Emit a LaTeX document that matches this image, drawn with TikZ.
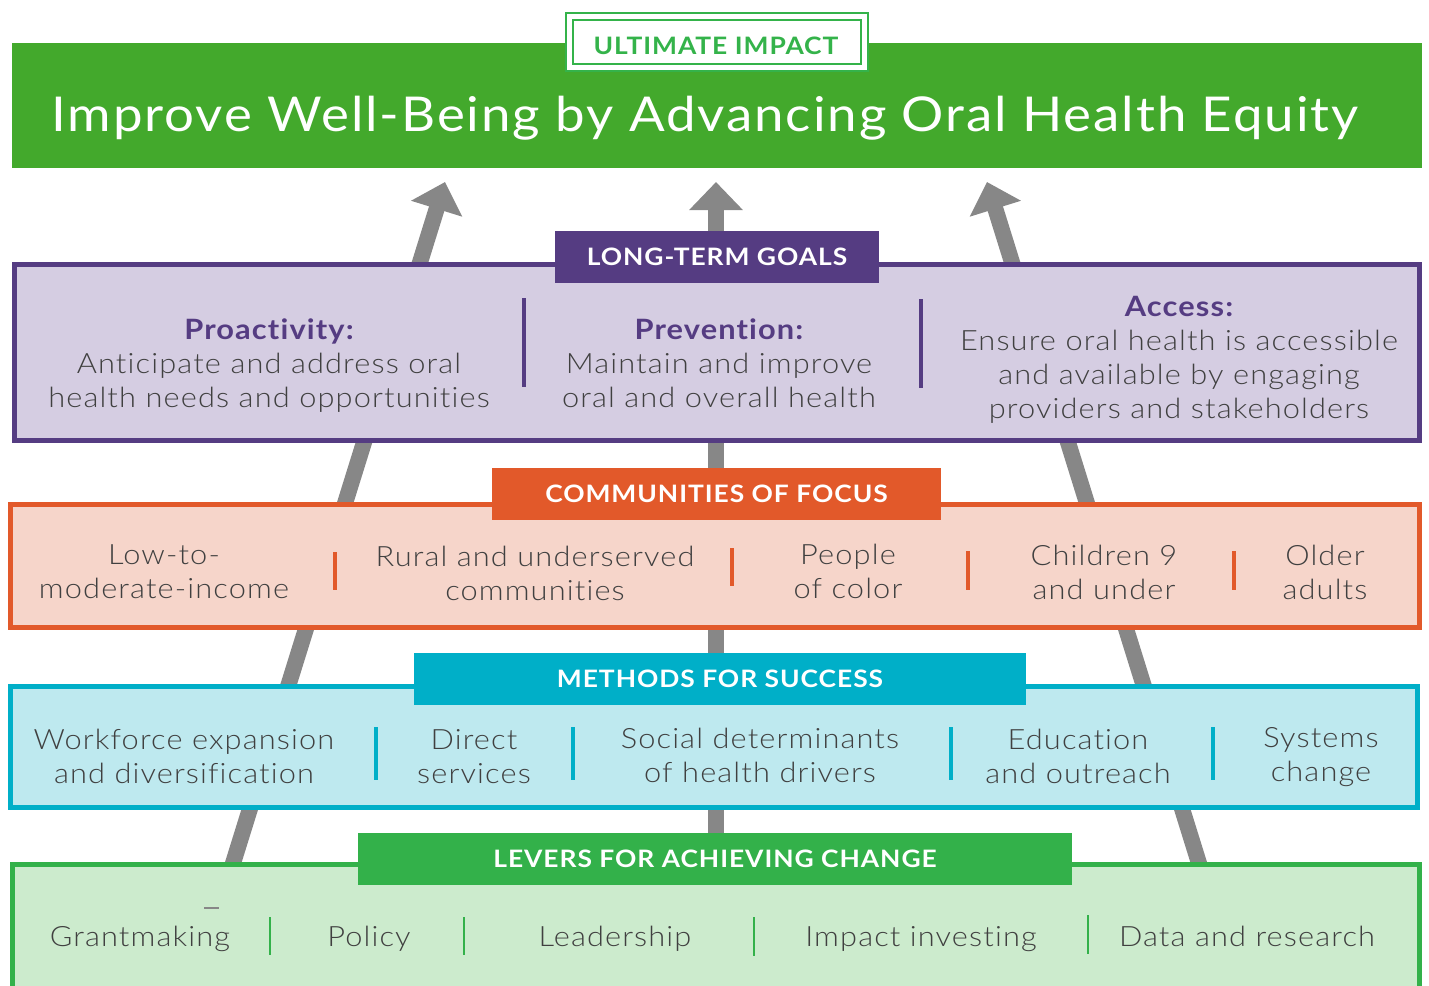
\documentclass[tikz,border=0pt]{standalone}
\usepackage{fontspec}
\setmainfont{Lato}[FakeStretch=1.1, LetterSpace=4, Ligatures=NoCommon]
\newfontfamily\bookfont{Lato Light}[FakeStretch=1.1, LetterSpace=4, Ligatures=NoCommon]
\usetikzlibrary{arrows.meta}
\definecolor{bannergreen}{HTML}{43A92C}
\definecolor{impactgreen}{HTML}{34B34A}
\definecolor{goalpurple}{HTML}{553C82}
\definecolor{goalfill}{HTML}{D5CDE2}
\definecolor{focusorange}{HTML}{E2592A}
\definecolor{focusfill}{HTML}{F6D5CA}
\definecolor{methodcyan}{HTML}{00AFC8}
\definecolor{methodfill}{HTML}{BEE9EF}
\definecolor{levergreen}{HTML}{33B14A}
\definecolor{leverfill}{HTML}{CCEBCD}
\definecolor{arrowgray}{HTML}{878787}
\definecolor{textgray}{HTML}{404040}

\begin{document}
\begin{tikzpicture}[x=1pt,y=-1pt,
	tier/.style={rectangle, inner sep=0pt, line width=5pt},
	tag/.style={rectangle, inner sep=0pt, minimum height=52pt, text=white,
		font=\fontsize{24}{28}\selectfont\bfseries},
	entry/.style={align=center, text=textgray, inner sep=0pt,
		font=\fontsize{28}{34}\selectfont\bookfont},
	lever/.style={entry, anchor=base},
	rise/.style={draw=arrowgray, line width=16pt,
		-{Triangle[length=28pt,width=52pt]}}]
	\path[use as bounding box, clip] (0,0) rectangle (1429,985);

	% ultimate impact banner
	\node[rectangle, fill=bannergreen, minimum width=1410pt, minimum height=125pt,
		inner sep=0pt] (banner) at (717,105.5) {};
	\node[text=white, font=\fontsize{48}{56}\selectfont] (bannertext) at (705,118)
		{Improve Well-Being by Advancing Oral Health Equity};
	\node[rectangle, fill=white, draw=impactgreen, line width=2pt,
		double=white, double distance=5pt,
		minimum width=295pt, minimum height=51pt, inner sep=0pt] (impact) at (716.5,42) {};
	\node[text=impactgreen, font=\fontsize{24}{28}\selectfont\bfseries] (impacttext) at (716,46)
		{ULTIMATE IMPACT};

	% arrows rising through the tiers
	\coordinate (baseL) at (227.8,880);
	\coordinate (tipL) at (445,182);
	\coordinate (baseM) at (716,880);
	\coordinate (tipM) at (716,182);
	\coordinate (baseR) at (1204.2,880);
	\coordinate (tipR) at (987,182);
	\draw[rise] (baseL) -- (tipL);
	\draw[rise] (baseM) -- (tipM);
	\draw[rise] (baseR) -- (tipR);

	% long-term goals
	\node[tier, draw=goalpurple, fill=goalfill, minimum width=1405pt,
		minimum height=176pt] (goals) at (717,352.5) {};
	\node[tag, fill=goalpurple, minimum width=324pt] (goalstag) at (717,257) {LONG-TERM GOALS};
	\node[entry] (proactivity) at (269,366)
		{{\normalfont\bfseries\color{goalpurple}Proactivity:}\\Anticipate and address oral\\health needs and opportunities};
	\node[entry] (prevention) at (719,363.5)
		{{\normalfont\bfseries\color{goalpurple}Prevention:}\\Maintain and improve\\oral and overall health};
	\node[entry] (access) at (1179,359.5)
		{{\normalfont\bfseries\color{goalpurple}Access:}\\Ensure oral health is accessible\\and available by engaging\\providers and stakeholders};
	\draw[goalpurple, line width=4pt] (524,298) -- (524,387);
	\draw[goalpurple, line width=4pt] (921,299) -- (921,388);

	% communities of focus
	\node[tier, draw=focusorange, fill=focusfill, minimum width=1409pt,
		minimum height=123pt] (focus) at (715,566) {};
	\node[tag, fill=focusorange, minimum width=449pt] (focustag) at (716.5,494) {COMMUNITIES OF FOCUS};
	\node[entry] (income) at (164,572) {Low-to-\\moderate-income};
	\node[entry] (rural) at (535,573) {Rural and underserved\\communities};
	\node[entry] (color) at (848,571) {People\\of color};
	\node[entry] (children) at (1104,572) {Children 9\\and under};
	\node[entry] (older) at (1325,572) {Older\\adults};
	\foreach \x/\a/\b in {335/552/590, 732/548/586, 968/551/590, 1234/551/590}
		\draw[focusorange, line width=4pt] (\x,\a) -- (\x,\b);

	% methods for success
	\node[tier, draw=methodcyan, fill=methodfill, minimum width=1407pt,
		minimum height=121pt] (methods) at (714,747) {};
	\node[tag, fill=methodcyan, minimum width=612pt] (methodstag) at (720,679) {METHODS FOR SUCCESS};
	\node[entry] (workforce) at (184,756.5) {Workforce expansion\\and diversification};
	\node[entry] (direct) at (474,756.5) {Direct\\services};
	\node[entry] (social) at (760,755) {Social determinants\\of health drivers};
	\node[entry] (education) at (1078,756.5) {Education\\and outreach};
	\node[entry] (systems) at (1321,757.5) {Systems\\change};
	\foreach \x in {376, 573, 951, 1213}
		\draw[methodcyan, line width=4pt] (\x,727) -- (\x,780);

	% levers for achieving change
	\node[tier, draw=levergreen, fill=leverfill, minimum width=1407pt,
		minimum height=135.5pt] (levers) at (716,932) {};
	\node[tag, fill=levergreen, minimum width=714pt] (leverstag) at (715,859) {LEVERS FOR ACHIEVING CHANGE};
	\node[lever] (grantmaking) at (140,946) {Grantmaking};
	\node[lever] (policy) at (369,946) {Policy};
	\node[lever] (leadership) at (615,946) {Leadership};
	\node[lever] (investing) at (921,946) {Impact investing};
	\node[lever] (research) at (1247,946) {Data and research};
	\draw[arrowgray, line width=1.5pt] (204,908) -- (219,908);
	\foreach \x/\a/\b in {270/917/955, 464/917/955, 754/917/956, 1088/915/954}
		\draw[levergreen, line width=2pt] (\x,\a) -- (\x,\b);
\end{tikzpicture}
\end{document}
